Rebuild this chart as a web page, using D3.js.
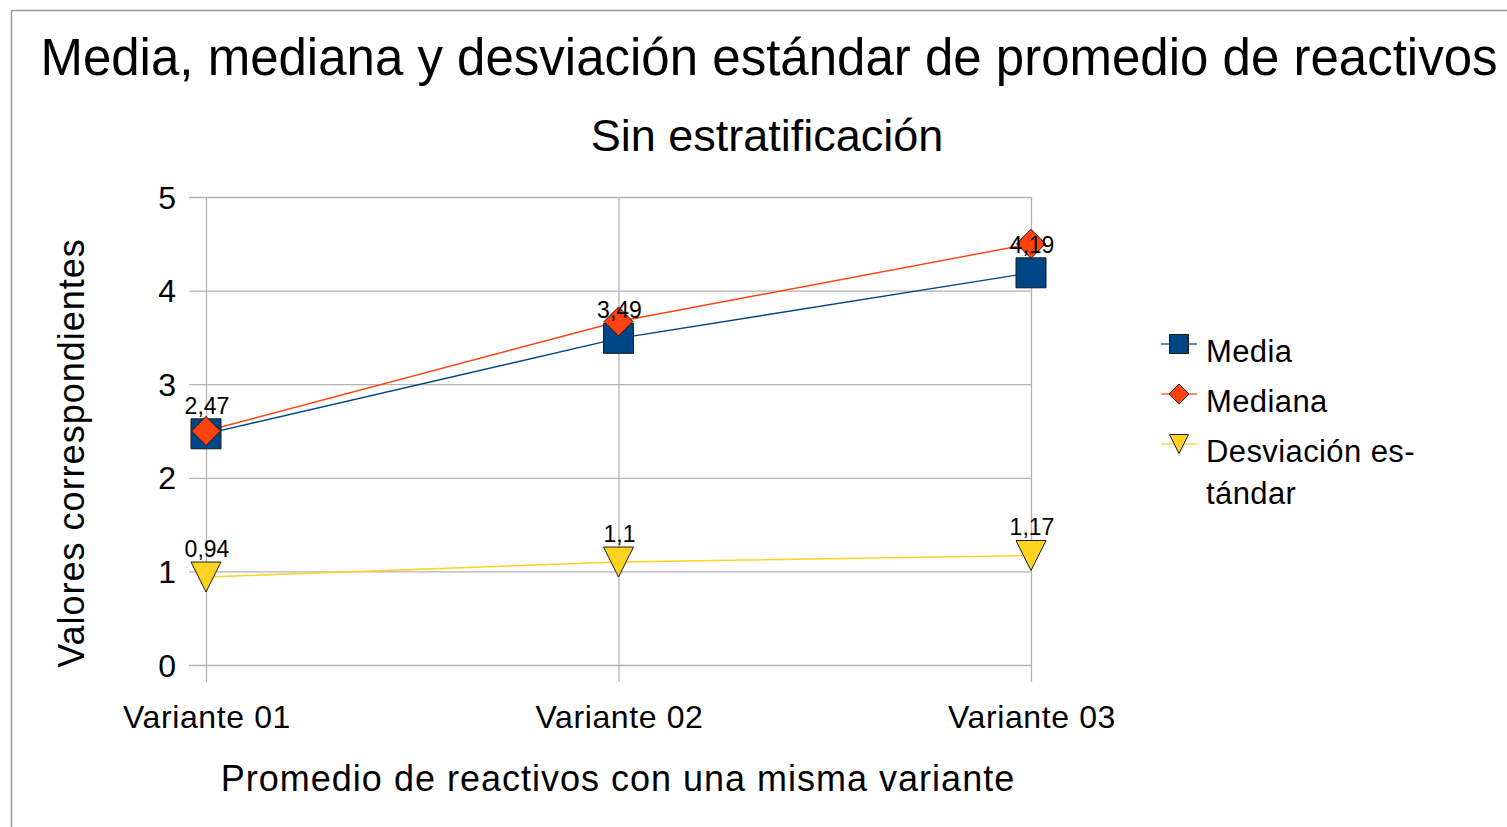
<!DOCTYPE html>
<html>
<head>
<meta charset="utf-8">
<script src="https://cdn.jsdelivr.net/npm/d3@7"></script>
<style>
    body { margin: 0; background: #fff; }
    text { font-family: "Liberation Sans", Arial, sans-serif; fill: #000; }
</style>
</head>
<body>
<svg id="chart" width="1507" height="827"></svg>
<script>
/**
 * Media, mediana y desviación estándar - line chart
 */

// data
let categories = ["Variante 01", "Variante 02", "Variante 03"];
let mediaValues = [2.47, 3.49, 4.19];
let medianaValues = [2.5, 3.67, 4.5];
let desviacionValues = [0.94, 1.1, 1.17];
let yTicks = [0, 1, 2, 3, 4, 5];

let seriesNames = ["Media", "Mediana", "Desviación es-|tándar"];
let seriesColors = ["#004586", "#ff420e", "#ffd320"];
let seriesShapes = ["square", "diamond", "triangle"];
let seriesData = [mediaValues, medianaValues, desviacionValues];
let seriesLabelled = [true, false, true];

/**
 * Preset plot box (pixels)
 */
let plot = {
    left: 206,
    right: 1031,
    top: 197,
    bottom: 665
};

let svg = d3.select("#chart");

let x = d3.scalePoint()
    .domain(categories)
    .range([plot.left, plot.right]);

let y = d3.scaleLinear()
    .domain([0, 5])
    .range([plot.bottom, plot.top]);

/**
 * Returns a path string for a marker centred on 0,0
 * @param shape "square", "diamond" or "triangle"
 * @param s Half size of the marker
 */
function markerPath(shape, s) {
    if (shape == "square") {
        return `M${-s},${-s}H${s}V${s}H${-s}Z`;
    } else if (shape == "diamond") {
        return `M0,${-s}L${s},0L0,${s}L${-s},0Z`;
    }
    return `M${-s},${-s}H${s}L0,${s}Z`;
}

// background and outer border
svg.append("rect")
    .attr("width", 1507)
    .attr("height", 827)
    .attr("fill", "#fff");

svg.append("rect")
    .attr("x", 11.5)
    .attr("y", 10.5)
    .attr("width", 1520)
    .attr("height", 840)
    .attr("fill", "none")
    .attr("stroke", "#9a9a9a")
    .attr("stroke-width", 1.5);

// titles
svg.append("text")
    .attr("x", 769)
    .attr("y", 75)
    .attr("text-anchor", "middle")
    .style("font-size", "51px")
    .text("Media, mediana y desviación estándar de promedio de reactivos");

svg.append("text")
    .attr("x", 767)
    .attr("y", 151)
    .attr("text-anchor", "middle")
    .style("font-size", "45px")
    .text("Sin estratificación");

// horizontal grid (with tick stubs on the left)
svg.append("g")
    .call(d3.axisLeft(y)
        .tickValues(yTicks)
        .tickSize(-(plot.right - plot.left + 17))
        .tickFormat(""))
    .attr("transform", `translate(${plot.left - 17},0)`)
    .call(g => g.select(".domain").remove())
    .call(g => g.selectAll("line")
        .attr("stroke", "#b3b3b3")
        .attr("stroke-width", 1.3));

// vertical grid (with tick stubs below)
svg.append("g")
    .call(d3.axisBottom(x)
        .tickSize(-(plot.bottom - plot.top + 17))
        .tickFormat(""))
    .attr("transform", `translate(0,${plot.bottom + 17})`)
    .call(g => g.select(".domain").remove())
    .call(g => g.selectAll("line")
        .attr("stroke", "#b3b3b3")
        .attr("stroke-width", 1.3));

// y tick labels
svg.append("g")
    .selectAll("text")
    .data(yTicks)
    .enter()
    .append("text")
    .attr("x", 176)
    .attr("y", d => y(d))
    .attr("dy", "0.36em")
    .attr("text-anchor", "end")
    .style("font-size", "32px")
    .text(d => d);

// category labels
svg.append("g")
    .selectAll("text")
    .data(categories)
    .enter()
    .append("text")
    .attr("x", d => x(d) + 1)
    .attr("y", 728)
    .attr("text-anchor", "middle")
    .style("font-size", "32px")
    .style("letter-spacing", "0.6px")
    .text(d => d);

// axis titles
svg.append("text")
    .attr("x", 618)
    .attr("y", 791)
    .attr("text-anchor", "middle")
    .style("font-size", "36px")
    .style("letter-spacing", "1px")
    .text("Promedio de reactivos con una misma variante");

svg.append("text")
    .attr("transform", "translate(84,453) rotate(-90)")
    .attr("text-anchor", "middle")
    .style("font-size", "36px")
    .style("letter-spacing", "1px")
    .text("Valores correspondientes");

// lines
let line = d3.line()
    .x((d, i) => x(categories[i]))
    .y(d => y(d));

seriesData.forEach(function(values, k) {
    svg.append("path")
        .datum(values)
        .attr("fill", "none")
        .attr("stroke", seriesColors[k])
        .attr("stroke-width", 1.4)
        .attr("d", line);
});

// markers
seriesData.forEach(function(values, k) {
    svg.append("g")
        .selectAll("path")
        .data(values)
        .enter()
        .append("path")
        .attr("transform", (d, i) => `translate(${x(categories[i])},${y(d)})`)
        .attr("d", markerPath(seriesShapes[k], seriesShapes[k] == "diamond" ? 14.5 : 15))
        .attr("fill", seriesColors[k])
        .attr("stroke", "#1a1a1a")
        .attr("stroke-width", 1);
});

// value labels
seriesData.forEach(function(values, k) {
    if (!seriesLabelled[k]) return;
    svg.append("g")
        .selectAll("text")
        .data(values)
        .enter()
        .append("text")
        .attr("x", (d, i) => x(categories[i]) + 1)
        .attr("y", d => y(d) - 20)
        .attr("text-anchor", "middle")
        .style("font-size", "23px")
        .text(d => String(d).replace(".", ","));
});

// legend
let legend = svg.append("g")
    .selectAll("g")
    .data(seriesNames)
    .enter()
    .append("g")
    .attr("transform", (d, i) => `translate(1179,${344 + i * 50})`);

legend.each(function(d, i) {
    let elem = d3.select(this);
    elem.append("line")
        .attr("x1", -18)
        .attr("x2", 18)
        .attr("stroke", seriesColors[i])
        .attr("stroke-opacity", 0.6)
        .attr("stroke-width", 2);
    elem.append("path")
        .attr("d", markerPath(seriesShapes[i], seriesShapes[i] == "diamond" ? 10 : 9.5))
        .attr("fill", seriesColors[i])
        .attr("stroke", "#1a1a1a")
        .attr("stroke-width", 1);
    let text = elem.append("text")
        .attr("x", 27)
        .attr("y", 18)
        .style("font-size", "31px")
        .style("letter-spacing", "0.4px");
    d.split("|").forEach(function(part, j) {
        text.append("tspan")
            .attr("x", 27)
            .attr("dy", j == 0 ? 0 : 42)
            .text(part);
    });
});
</script>
</body>
</html>
